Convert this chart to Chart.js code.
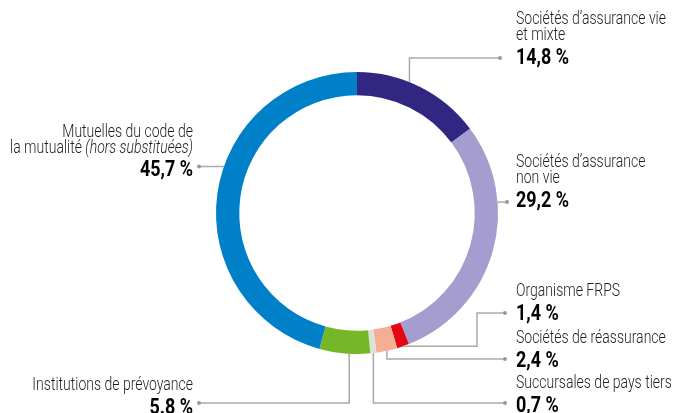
<!DOCTYPE html>
<html>
<head>
<meta charset="utf-8">
<script src="https://cdn.jsdelivr.net/npm/chart.js@4/dist/chart.umd.min.js"></script>
<style>
  html, body { margin: 0; padding: 0; background: #fff; }
  #chart { display: block; }
</style>
</head>
<body>
<canvas id="chart" width="678" height="413"></canvas>
<script>
// data
const categories = [
    'Sociétés d’assurance vie et mixte',
    'Sociétés d’assurance non vie',
    'Organisme FRPS',
    'Sociétés de réassurance',
    'Succursales de pays tiers',
    'Institutions de prévoyance',
    'Mutuelles du code de la mutualité (hors substituées)'
];
const shares = [14.8, 29.2, 1.4, 2.4, 0.7, 5.8, 45.7];
const valueLabels = ['14,8 %', '29,2 %', '1,4 %', '2,4 %', '0,7 %', '5.8 %', '45,7 %'];
const sliceColors = ['#312783', '#a59dd0', '#e30613', '#f5ae93', '#dde2d8', '#76b72a', '#0080c8'];

// label text lines (segments may be italic)
const labelLines = [
    [[{ t: 'Sociétés d’assurance vie' }], [{ t: 'et mixte' }]],
    [[{ t: 'Sociétés d’assurance' }], [{ t: 'non vie' }]],
    [[{ t: 'Organisme FRPS' }]],
    [[{ t: 'Sociétés de réassurance' }]],
    [[{ t: 'Succursales de pays tiers' }]],
    [[{ t: 'Institutions de prévoyance' }]],
    [[{ t: 'Mutuelles du code de' }], [{ t: 'la mutualité ' }, { t: '(hors substituées)', italic: true }]]
];

// placement of labels and leader lines
const labelLayout = [
    { frac: 0.41, route: 'vh', endX: 500, endY: 58, textX: 516, align: 'left', firstBase: 24, valueBase: 64 },
    { frac: 0.307, route: 'h', endX: 507, textX: 516, align: 'left', firstBase: 167, valueBase: 207 },
    { frac: 0.5, route: 'hvh', elbowX: 477, endX: 505, endY: 313, textX: 516, align: 'left', firstBase: 296, valueBase: 320 },
    { frac: 0.5, route: 'vh', endX: 505, endY: 359, textX: 516, align: 'left', firstBase: 343, valueBase: 367 },
    { frac: 0.5, route: 'vh', endX: 505, endY: 403, textX: 516, align: 'left', firstBase: 388, valueBase: 412 },
    { frac: 0.41, route: 'vh', endX: 199, endY: 403, textX: 193, align: 'right', firstBase: 390, valueBase: 414 },
    { frac: 0.57, route: 'h', endX: 199, textX: 193, align: 'right', firstBase: 137, valueBase: 176 }
];

const FONT_FAMILY = 'Roboto, "Liberation Sans", sans-serif';
const LINE_GAP = 16;
// the printed font is a condensed face: squeeze a normal one horizontally
let regScale = 0.8;
let boldScale = 0.8;

function segFont(seg) {
    return (seg.italic ? 'italic ' : '') + '300 18px ' + FONT_FAMILY;
}
const BOLD_FONT = 'bold 22px ' + FONT_FAMILY;

function calibrate(ctx) {
    ctx.font = segFont({});
    regScale = 150 / ctx.measureText('Sociétés d’assurance vie').width;
    ctx.font = BOLD_FONT;
    boldScale = 53 / ctx.measureText('45,7 %').width;
}

function squeezed(ctx, text, x, y, sx) {
    ctx.save();
    ctx.translate(x, y);
    ctx.scale(sx, 1);
    ctx.fillText(text, 0, 0);
    ctx.restore();
}

function drawLine(ctx, segs, x, y, align) {
    const widths = segs.map(s => { ctx.font = segFont(s); return ctx.measureText(s.t).width * regScale; });
    const total = widths.reduce((a, b) => a + b, 0);
    let cx = align === 'right' ? x - total : x;
    ctx.textAlign = 'left';
    segs.forEach((s, i) => {
        ctx.font = segFont(s);
        squeezed(ctx, s.t, cx, y, regScale);
        cx += widths[i];
    });
}

const calloutPlugin = {
    id: 'callouts',
    afterDraw(chart) {
        const ctx = chart.ctx;
        const arcs = chart.getDatasetMeta(0).data;
        ctx.save();
        ctx.textBaseline = 'alphabetic';
        calibrate(ctx);
        arcs.forEach((arc, i) => {
            const lay = labelLayout[i];
            const p = arc.getProps(['x', 'y', 'startAngle', 'endAngle', 'outerRadius'], true);
            const a = p.startAngle + (p.endAngle - p.startAngle) * lay.frac;
            const px = p.x + p.outerRadius * Math.cos(a);
            const py = p.y + p.outerRadius * Math.sin(a);

            const pts = [[px, py]];
            let ex, ey;
            if (lay.route === 'h') {
                ex = lay.endX; ey = py;
            } else if (lay.route === 'vh') {
                pts.push([px, lay.endY]);
                ex = lay.endX; ey = lay.endY;
            } else {
                pts.push([lay.elbowX, py], [lay.elbowX, lay.endY]);
                ex = lay.endX; ey = lay.endY;
            }
            pts.push([ex, ey]);

            ctx.strokeStyle = '#aaaaaa';
            ctx.lineWidth = 1.5;
            ctx.beginPath();
            pts.forEach((q, k) => k ? ctx.lineTo(q[0], q[1]) : ctx.moveTo(q[0], q[1]));
            ctx.stroke();
            ctx.fillStyle = '#999999';
            ctx.beginPath();
            ctx.arc(ex, ey, 2, 0, Math.PI * 2);
            ctx.fill();

            ctx.fillStyle = '#1d1d1b';
            labelLines[i].forEach((segs, k) => {
                drawLine(ctx, segs, lay.textX, lay.firstBase + k * LINE_GAP, lay.align);
            });
            ctx.fillStyle = '#000000';
            ctx.font = BOLD_FONT;
            ctx.textAlign = lay.align;
            squeezed(ctx, valueLabels[i], lay.textX, lay.valueBase, boldScale);
        });
        ctx.restore();
    }
};

new Chart(document.getElementById('chart'), {
    type: 'doughnut',
    data: {
        labels: categories,
        datasets: [{
            data: shares,
            backgroundColor: sliceColors,
            borderWidth: 0
        }]
    },
    options: {
        responsive: false,
        animation: false,
        events: [],
        cutout: '83.5%',
        layout: { padding: { left: 216, right: 180, top: 72, bottom: 59 } },
        plugins: {
            legend: { display: false },
            tooltip: { enabled: false }
        }
    },
    plugins: [calloutPlugin]
});
</script>
</body>
</html>
